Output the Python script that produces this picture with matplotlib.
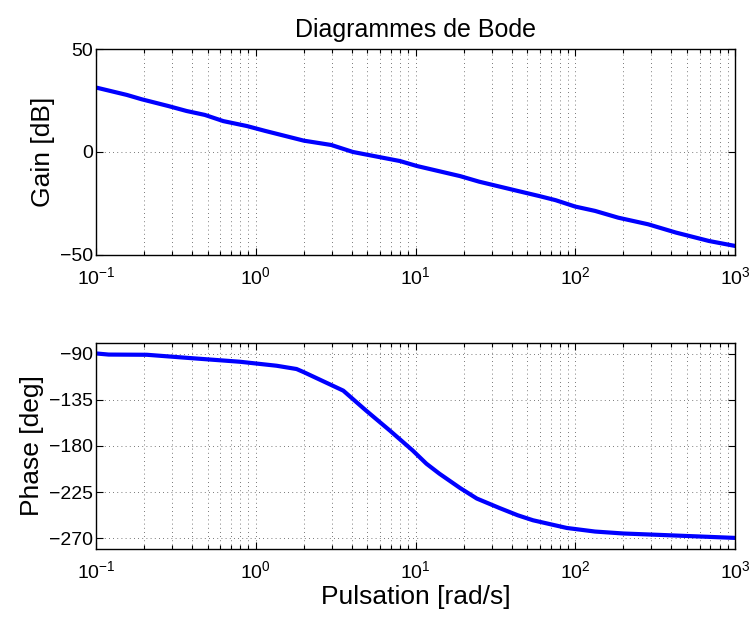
import matplotlib
matplotlib.use('Agg')
import matplotlib.pyplot as plt
from matplotlib.ticker import LogLocator, NullFormatter

plt.rcParams['font.family'] = ['Liberation Sans', 'DejaVu Sans']
plt.rcParams['mathtext.default'] = 'regular'

# Gain
w_gain = [0.1, 0.156, 0.193, 0.284, 0.369, 0.48, 0.626, 0.88, 1.15, 2.0, 2.97, 4.06,
          8.0, 10.2, 19.0, 25.0, 43.6, 59.6, 75.4, 100, 133, 186, 286, 426, 687, 1000]
gain_db = [31.3, 27.7, 25.6, 22.3, 19.9, 18.0, 15.0, 12.6, 10.2, 5.5, 3.4, 0.0,
           -4.4, -6.8, -11.7, -14.4, -18.9, -21.4, -23.4, -26.5, -28.6, -31.9, -35.1, -39.1, -43.2, -45.6]

# Phase
w_phase = [0.1, 0.12, 0.208, 0.387, 0.795, 1.35, 1.8, 2.0, 3.53, 4.9, 6.9, 9.6, 11.7, 14.1,
           19.0, 24.2, 33.5, 43.6, 54.4, 88.5, 133, 200, 368, 1000]
phase_deg = [-89.7, -90.8, -91.0, -94.2, -97.8, -101.7, -104.9, -108.0, -126.0, -145.4, -164.9,
             -184.4, -197.3, -207.0, -221.0, -231.3, -240.5, -247.6, -252.5, -260.0, -263.5,
             -265.4, -267.0, -269.7]

gain_ticks = [-50, 0, 50]
phase_ticks = [-270, -225, -180, -135, -90]

fig = plt.figure(figsize=(7.52, 6.18), dpi=100)
ax1 = fig.add_axes([0.1277, 0.5874, 0.8497, 0.3333])
ax2 = fig.add_axes([0.1277, 0.1117, 0.8497, 0.3333])


def style_axe(ax):
    ax.set_xscale('log')
    ax.set_xlim(0.1, 1000)
    ax.xaxis.set_major_locator(LogLocator(base=10, numticks=10))
    ax.xaxis.set_minor_locator(LogLocator(base=10, subs=range(2, 10), numticks=100))
    ax.xaxis.set_minor_formatter(NullFormatter())
    ax.tick_params(which='both', direction='in', top=True, right=True, labelsize=14, width=0.8)
    ax.tick_params(which='major', length=5)
    ax.tick_params(which='minor', length=3)
    ax.tick_params(axis='x', pad=8)
    ax.tick_params(axis='y', pad=2)
    ax.grid(True, which='both', axis='x', linestyle=(0, (1, 4)), linewidth=0.6, color='k', alpha=0.7)
    ax.grid(True, which='major', axis='y', linestyle=(0, (1, 4)), linewidth=0.6, color='k', alpha=0.7)
    for spine in ax.spines.values():
        spine.set_linewidth(1)
        spine.set_color('black')


# Diagramme de gain
ax1.plot(w_gain, gain_db, color='#0000ff', linewidth=3)
style_axe(ax1)
ax1.set_ylim(-50, 50)
ax1.set_yticks(gain_ticks)
ax1.set_ylabel('Gain [dB]', fontsize=19, labelpad=4)
ax1.set_title('Diagrammes de Bode', fontsize=18, pad=9)

# Diagramme de phase
ax2.plot(w_phase, phase_deg, color='#0000ff', linewidth=3)
style_axe(ax2)
ax2.set_ylim(-280.5, -79.5)
ax2.set_yticks(phase_ticks)
ax2.set_ylabel('Phase [deg]', fontsize=19, labelpad=4)
ax2.set_xlabel('Pulsation [rad/s]', fontsize=19, labelpad=2)

fig.savefig('out.png', dpi=100)
